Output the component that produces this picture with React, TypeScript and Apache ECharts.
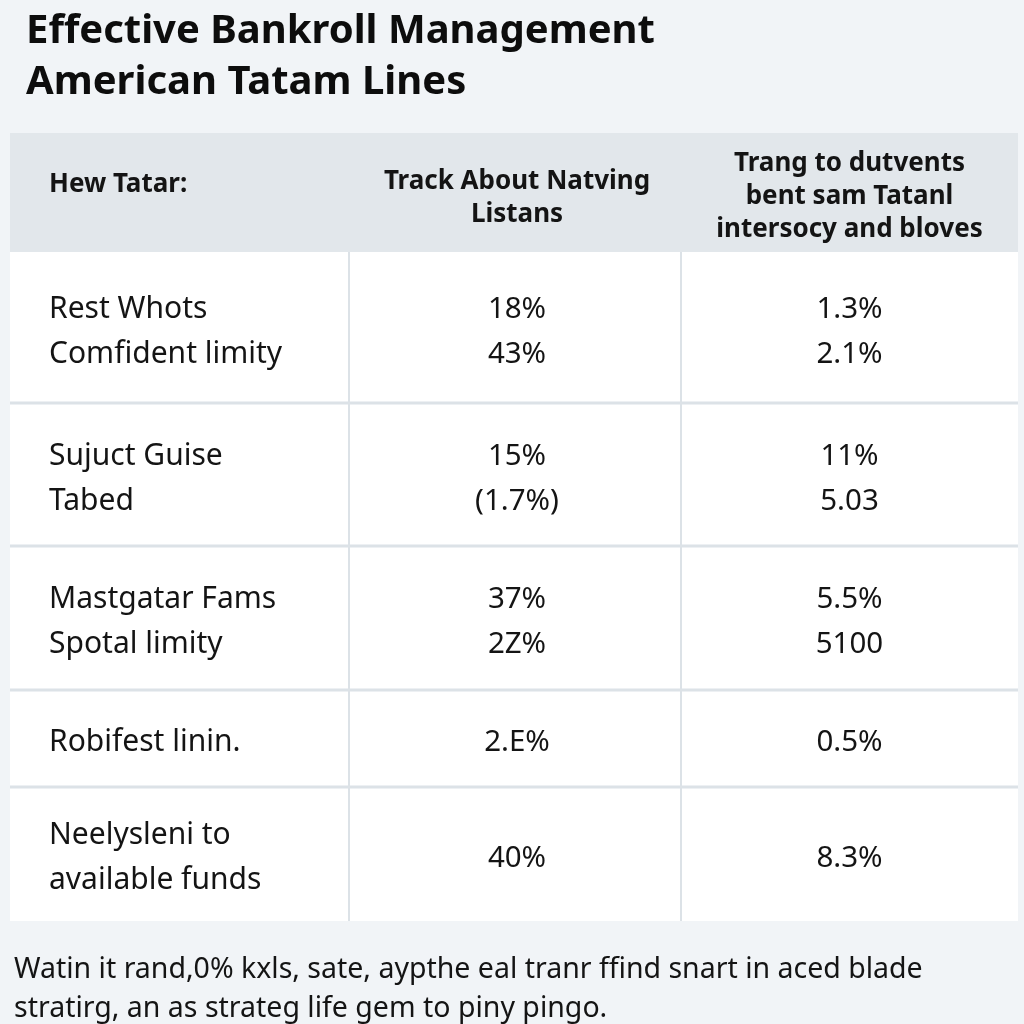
import React, { useEffect, useRef } from "react";
import * as echarts from "echarts";

const titleLines = ["Effective Bankroll Management", "American Tatam Lines"];
const headers = [["Hew Tatar:"], ["Track About Natving", "Listans"], ["Trang to dutvents", "bent sam Tatanl", "intersocy and bloves"]];
const rowLabels = [
  ["Rest Whots", "Comfident limity"],
  ["Sujuct Guise", "Tabed"],
  ["Mastgatar Fams", "Spotal limity"],
  ["Robifest linin."],
  ["Neelysleni to", "available funds"],
];
const col2Values = [["18%", "43%"], ["15%", "(1.7%)"], ["37%", "2Z%"], ["2.E%"], ["40%"]];
const col3Values = [["1.3%", "2.1%"], ["11%", "5.03"], ["5.5%", "5100"], ["0.5%"], ["8.3%"]];
const footerLines = [
  "Watin it rand,0% kxls, sate, aypthe eal tranr ffind snart in aced blade",
  "stratirg, an as strateg life gem to piny pingo.",
];

// layout
const TL = 10, TR = 1018;
const colX = [TL, 349, 681, TR];
const headTop = 133, headBottom = 252;
const rowEdges = [252, 403, 546, 690, 787, 921];
const FONT = "'Noto Sans', Roboto, sans-serif";
const TXT = "#141414";

function lines(g: any[], arr: string[], x: number, cy: number, lh: number, font: string, align: string) {
  const n = arr.length;
  arr.forEach((t, k) => {
    g.push({ type: "text", x, y: cy + (k - (n - 1) / 2) * lh, style: { text: t, fill: TXT, font, textAlign: align, textVerticalAlign: "middle" } });
  });
}

export default function App() {
  const ref = useRef<HTMLDivElement>(null);
  useEffect(() => {
    const chart = echarts.init(ref.current!, null, { renderer: "svg" });
    const g: any[] = [];
    g.push({ type: "rect", shape: { x: 0, y: 0, width: 1024, height: 1024 }, style: { fill: "#f1f4f7" }, silent: true });
    titleLines.forEach((t, i) => {
      g.push({ type: "text", x: 26, y: 27 + i * 51, style: { text: t, fill: "#0d0d0d", font: `bold 40px ${FONT}`, textAlign: "left", textVerticalAlign: "middle" } });
    });
    g.push({ type: "rect", shape: { x: TL, y: headTop, width: TR - TL, height: headBottom - headTop }, style: { fill: "#e2e7eb" } });
    g.push({ type: "rect", shape: { x: TL, y: headBottom, width: TR - TL, height: rowEdges[rowEdges.length - 1] - headBottom }, style: { fill: "#ffffff" } });
    rowEdges.slice(1, -1).forEach((y) => {
      g.push({ type: "line", shape: { x1: TL, y1: y, x2: TR, y2: y }, style: { stroke: "#dce2e7", lineWidth: 3 } });
    });
    [colX[1], colX[2]].forEach((x) => {
      g.push({ type: "line", shape: { x1: x, y1: headBottom, x2: x, y2: rowEdges[rowEdges.length - 1] }, style: { stroke: "#dce2e7", lineWidth: 2 } });
    });
    const hf = `bold 26px ${FONT}`;
    lines(g, headers[0], 49, 182, 33, hf, "left");
    lines(g, headers[1], (colX[1] + colX[2]) / 2 + 2, 195, 33, hf, "center");
    lines(g, headers[2], (colX[2] + colX[3]) / 2, 194, 33, hf, "center");
    rowLabels.forEach((lab, i) => {
      const cy = (rowEdges[i] + rowEdges[i + 1]) / 2 + 1;
      lines(g, lab, 49, cy, 45, `30px ${FONT}`, "left");
      lines(g, col2Values[i], (colX[1] + colX[2]) / 2 + 2, cy, 45, `29.5px ${FONT}`, "center");
      lines(g, col3Values[i], (colX[2] + colX[3]) / 2, cy, 45, `29.5px ${FONT}`, "center");
    });
    footerLines.forEach((t, i) => {
      g.push({ type: "text", x: 14, y: 967 + i * 39, style: { text: t, fill: TXT, font: `28.5px ${FONT}`, textAlign: "left", textVerticalAlign: "middle" } });
    });
    chart.setOption({ animation: false, graphic: { elements: g } });
    return () => chart.dispose();
  }, []);
  return <div ref={ref} style={{ position: "fixed", left: 0, top: 0, width: 1024, height: 1024 }} />;
}
